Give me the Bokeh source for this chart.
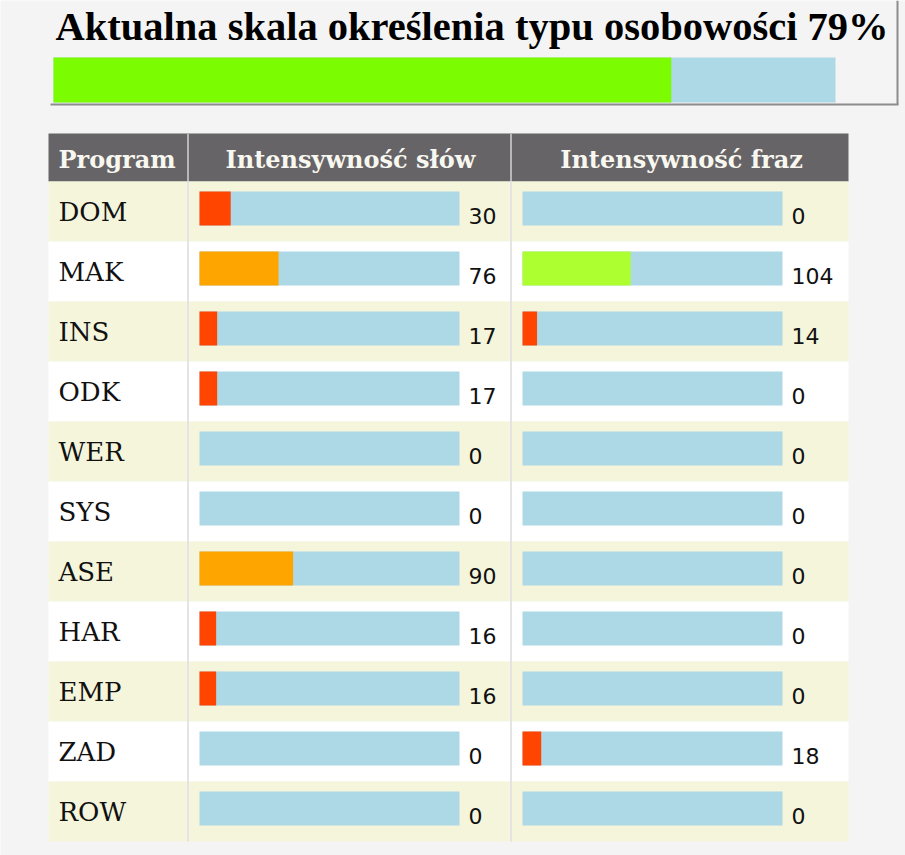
from bokeh.plotting import figure
from bokeh.models import Range1d
from bokeh.core.properties import value
from bokeh.embed import file_html
from bokeh.resources import INLINE

# ---------------- data ----------------
programs = ["DOM", "MAK", "INS", "ODK", "WER", "SYS", "ASE", "HAR", "EMP", "ZAD", "ROW"]
word_intensity = [30, 76, 17, 17, 0, 0, 90, 16, 16, 0, 0]
phrase_intensity = [0, 104, 14, 0, 0, 0, 0, 0, 0, 18, 0]
scale_max = 250
overall_pct = 79
title_text = "Aktualna skala określenia typu osobowości 79%"
headers = ["Program", "Intensywność słów", "Intensywność fraz"]

# ---------------- style ----------------
W, H = 905, 855
BG = "#f4f4f4"
TRACK = "#ADD8E6"
BEIGE = "#F5F5DC"
HEADER_BG = "#676467"


def level_color(v):
    if v > 100:
        return "#ADFF2F"
    if v >= 50:
        return "#FFA500"
    return "#FF4500"


p = figure(width=W, height=H, x_range=Range1d(0, W), y_range=Range1d(H, 0),
           x_axis_type=None, y_axis_type=None, output_backend="svg",
           toolbar_location=None, min_border=0, background_fill_color=BG,
           border_fill_color=BG, outline_line_color=None)
p.grid.visible = False

# ---- title ----
p.text(x=[55], y=[26], text=[title_text], text_font=value("Liberation Serif"),
       text_font_style="bold", text_font_size="40.5px", text_color="#000000",
       text_baseline="alphabetic", text_align="left")

# title box frame
p.segment(x0=[897, 50], y0=[0, 104], x1=[897, 898], y1=[104, 104],
          line_color="#8c8c8c", line_width=2)

# overall bar
ov = p.subplot(x_source=Range1d(0, 100), x_target=Range1d(53, 835),
               y_source=Range1d(0, 1), y_target=Range1d(57, 102))
ov.quad(left=[0], right=[100], bottom=[0], top=[1], fill_color=TRACK, line_color=None)
ov.quad(left=[0], right=[overall_pct], bottom=[0], top=[1], fill_color="#7CFC00", line_color=None)

# ---- table header ----
p.quad(left=[48], right=[848], top=[133], bottom=[181], fill_color=HEADER_BG, line_color=None)
p.segment(x0=[187.5, 510.5], y0=[133, 133], x1=[187.5, 510.5], y1=[181, 181],
          line_color="#b8b6b8", line_width=2)
p.text(x=[58, 350, 681], y=[159, 159, 159], text=headers,
       text_font=value("DejaVu Serif"), text_font_style="bold", text_font_size="24px",
       text_color="#f8f8f0", text_baseline="alphabetic",
       text_align=["left", "center", "center"])

n = len(programs)
row_pos = [i + 0.5 for i in range(n)]          # category slots, first at top
row_colors = [BEIGE if i % 2 == 0 else "#FFFFFF" for i in range(n)]

# ---- row backgrounds and labels ----
rows = p.subplot(x_source=Range1d(0, 1), x_target=Range1d(48, 848),
                 y_source=Range1d(0, n), y_target=Range1d(181, 841))
rows.hbar(y=row_pos, left=0, right=1, height=1.0, fill_color=row_colors, line_color=None)
rows.text(x=[0] * n, y=row_pos, text=programs, x_offset=10, y_offset=0,
          text_font=value("DejaVu Serif"), text_font_size="26px", text_color="#111111",
          text_baseline="alphabetic", text_align="left")

p.segment(x0=[187.5, 510.5], y0=[181, 181], x1=[187.5, 510.5], y1=[841, 841],
          line_color="#e4e4e4", line_width=2)

# ---- bar columns ----
bar_h = 34 / 60
for vals, x0, x1 in [(word_intensity, 199, 459), (phrase_intensity, 522, 782)]:
    sub = p.subplot(x_source=Range1d(0, scale_max), x_target=Range1d(x0, x1),
                    y_source=Range1d(0, n), y_target=Range1d(178, 838))
    sub.hbar(y=row_pos, left=0, right=scale_max, height=bar_h, fill_color=TRACK, line_color=None)
    sub.hbar(y=row_pos, left=0, right=vals, height=bar_h,
             fill_color=[level_color(v) for v in vals], line_color=None)
    sub.text(x=[scale_max] * n, y=row_pos, text=[str(v) for v in vals],
             x_offset=9, y_offset=7, text_font=value("DejaVu Sans"), text_font_size="22px",
             text_color="#111111", text_baseline="alphabetic", text_align="left")

open("out.html", "w").write(file_html(p, INLINE))
